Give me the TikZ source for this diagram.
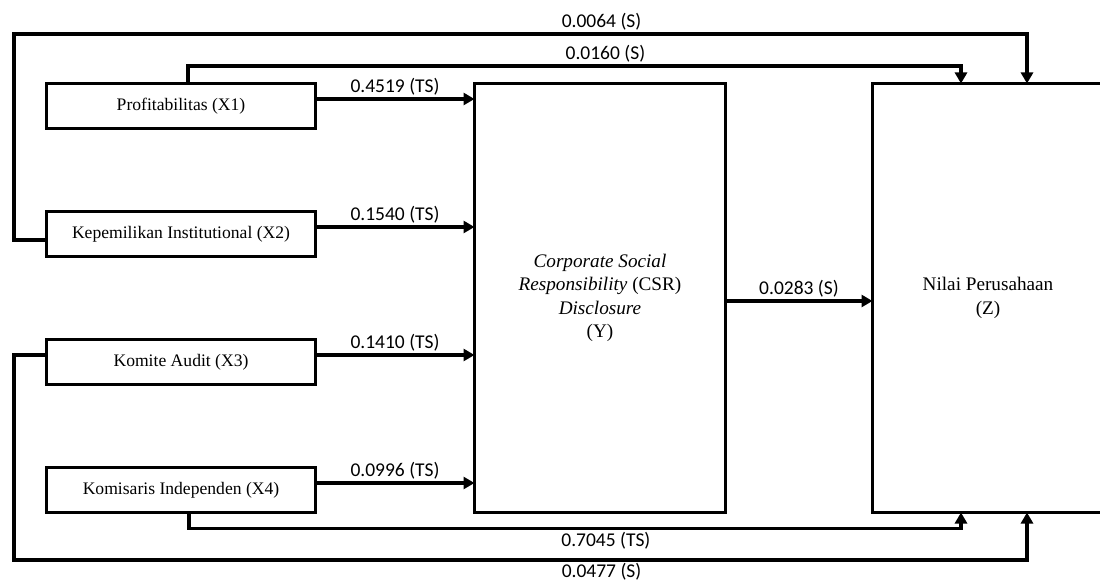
\documentclass[tikz,border=0pt]{standalone}
\usepackage{fontspec}
\setmainfont{Liberation Serif}
\newfontfamily\coeffont{Carlito}
\usepackage{tikz}
\usetikzlibrary{arrows.meta,positioning}

\begin{document}
\begin{tikzpicture}[
    node distance=83pt,
    box/.style={rectangle, draw, line width=3.5pt, outer sep=0pt, minimum width=269pt, minimum height=45pt, align=center, font=\fontsize{17.6}{21}\selectfont},
    bigbox/.style={rectangle, draw, line width=3.5pt, outer sep=0pt, minimum width=251pt, minimum height=429pt, align=center, font=\fontsize{19.2}{23.5}\selectfont},
    arrow/.style={-{Triangle[length=11pt,width=12pt]}, line width=3.2pt},
    coef/.style={font=\coeffont\fontsize{19.5}{23}\selectfont, inner sep=2pt}
]
\useasboundingbox (0,0) rectangle (1100pt,581pt);

\node[box] (x1) at (181pt,475pt) {Profitabilitas (X1)};
\node[box, below=of x1] (x2) {Kepemilikan Institutional (X2)};
\node[box, below=of x2] (x3) {Komite Audit (X3)};
\node[box, below=of x3] (x4) {Komisaris Independen (X4)};
\node[bigbox, right=159pt of x1.north east, anchor=north west] (y) {\textit{Corporate Social}\\\textit{Responsibility} (CSR)\\\textit{Disclosure}\\(Y)};
\node[bigbox, minimum width=231pt, right=147pt of y] (z) {Nilai Perusahaan\\(Z)};

\coordinate (ltop) at (14pt,547pt);
\coordinate (lbot) at (14pt,21pt);

% X -> Y
\draw[arrow] ([yshift=7pt]x1.east) -- ([yshift=7pt]x1.east -| y.west) node[coef, midway, above] {0.4519 (TS)};
\draw[arrow] ([yshift=7pt]x2.east) -- ([yshift=7pt]x2.east -| y.west) node[coef, midway, above] {0.1540 (TS)};
\draw[arrow] ([yshift=7pt]x3.east) -- ([yshift=7pt]x3.east -| y.west) node[coef, midway, above] {0.1410 (TS)};
\draw[arrow] ([yshift=7pt]x4.east) -- ([yshift=7pt]x4.east -| y.west) node[coef, midway, above] {0.0996 (TS)};

% Y -> Z
\draw[arrow] ([yshift=-3pt]y.east) -- ([yshift=-3pt]z.west) node[coef, midway, above] {0.0283 (S)};

% X -> Z
\draw[arrow] ([xshift=7pt]x1.north) -- ++(0,17.5pt) -| node[coef, pos=0.27, above] {0.0160 (S)} ([xshift=88.5pt]z.north west);
\draw[arrow] ([yshift=-6pt]x2.west) -| (ltop) -| node[coef, pos=0.29, above] {0.0064 (S)} ([xshift=154.5pt]z.north west);
\draw[arrow] ([xshift=8pt]x4.south) -- ++(0,-16pt) -| node[coef, pos=0.27, below] {0.7045 (TS)} ([xshift=88.5pt]z.south west);
\draw[arrow] ([yshift=7pt]x3.west) -| (lbot) -| node[coef, pos=0.29, below] {0.0477 (S)} ([xshift=154.5pt]z.south west);

\end{tikzpicture}
\end{document}
